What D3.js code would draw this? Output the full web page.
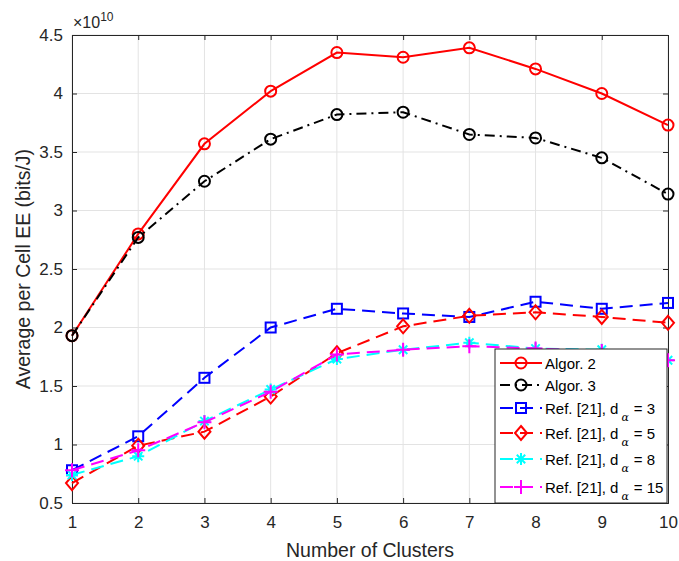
<!DOCTYPE html>
<html>
<head>
<meta charset="utf-8">
<script src="https://cdn.jsdelivr.net/npm/d3@7"></script>
<style>
  body { margin: 0; background: #fff; }
  svg { font-family: "Liberation Sans", Arial, sans-serif; }
</style>
</head>
<body>
<svg id="chart" width="679" height="561"></svg>
<script>
// data, values in units of 1e10 bits/J
const clusters = [1, 2, 3, 4, 5, 6, 7, 8, 9, 10];
const algor2 = [1.93, 2.80, 3.57, 4.02, 4.35, 4.31, 4.39, 4.21, 4.00, 3.73];
const algor3 = [1.93, 2.77, 3.25, 3.61, 3.82, 3.84, 3.65, 3.62, 3.45, 3.14];
const refD3 = [0.78, 1.07, 1.57, 2.00, 2.16, 2.12, 2.09, 2.22, 2.16, 2.21];
const refD5 = [0.67, 0.99, 1.11, 1.41, 1.78, 2.01, 2.10, 2.13, 2.09, 2.04];
const refD8 = [0.74, 0.90, 1.20, 1.47, 1.73, 1.81, 1.87, 1.82, 1.81, 1.72];
const refD15 = [0.78, 0.95, 1.19, 1.45, 1.77, 1.81, 1.84, 1.82, 1.80, 1.72];
const yTicks = [0.5, 1, 1.5, 2, 2.5, 3, 3.5, 4, 4.5];

const series = [
  {name: "Algor. 2", sub: null, values: algor2, color: "#ff0000", dash: null, marker: "circle"},
  {name: "Algor. 3", sub: null, values: algor3, color: "#000000", dash: "10,5,2,5", marker: "circle"},
  {name: "Ref. [21], d", sub: "3", values: refD3, color: "#0000ff", dash: "13,7", marker: "square"},
  {name: "Ref. [21], d", sub: "5", values: refD5, color: "#ff0000", dash: "13,7", marker: "diamond"},
  {name: "Ref. [21], d", sub: "8", values: refD8, color: "#00ffff", dash: "13,7", marker: "asterisk"},
  {name: "Ref. [21], d", sub: "15", values: refD15, color: "#ff00ff", dash: "13,7", marker: "plus"}
];

const svg = d3.select("#chart");
const margin = {left: 72, right: 11, top: 35, bottom: 58};
const width = 679 - margin.left - margin.right;
const height = 561 - margin.top - margin.bottom;

const x = d3.scaleLinear().domain([1, 10]).range([0, width]);
const y = d3.scaleLinear().domain([0.5, 4.5]).range([height, 0]);

const g = svg.append("g").attr("transform", `translate(${margin.left},${margin.top})`);

// grid
g.append("g").selectAll("line").data(clusters).enter().append("line")
  .attr("x1", d => x(d)).attr("x2", d => x(d))
  .attr("y1", 0).attr("y2", height)
  .style("stroke", "#e3e3e3").style("stroke-width", 1);
g.append("g").selectAll("line").data(yTicks).enter().append("line")
  .attr("x1", 0).attr("x2", width)
  .attr("y1", d => y(d)).attr("y2", d => y(d))
  .style("stroke", "#e3e3e3").style("stroke-width", 1);

// axes, MATLAB style with inward ticks on all sides
const tickLen = 5;
const xAxis = g.append("g").attr("transform", `translate(0,${height})`)
  .call(d3.axisBottom(x).tickValues(clusters).tickSize(-tickLen).tickPadding(13).tickFormat(d3.format("d")));
const yAxis = g.append("g")
  .call(d3.axisLeft(y).tickValues(yTicks).tickSize(-tickLen).tickPadding(9).tickFormat(d => d3.format("")(d)));
const xTop = g.append("g")
  .call(d3.axisTop(x).tickValues(clusters).tickSize(-tickLen).tickFormat(""));
const yRight = g.append("g").attr("transform", `translate(${width},0)`)
  .call(d3.axisRight(y).tickValues(yTicks).tickSize(-tickLen).tickFormat(""));

[xAxis, yAxis, xTop, yRight].forEach(a => {
  a.selectAll("path").style("stroke", "#262626").style("stroke-width", 1);
  a.selectAll("line").style("stroke", "#262626");
  a.selectAll("text").style("font-size", "17px").style("fill", "#262626")
    .style("font-family", "Liberation Sans, Arial, sans-serif");
});

// exponent label
const expo = svg.append("text").attr("x", margin.left + 1).attr("y", 28)
  .style("font-size", "16px").style("fill", "#262626");
expo.append("tspan").text("\u00d710");
expo.append("tspan").attr("dy", -7).style("font-size", "12px").text("10");

// axis labels
svg.append("text").attr("x", margin.left + width / 2).attr("y", 557)
  .attr("text-anchor", "middle").style("font-size", "19.5px").style("fill", "#262626")
  .text("Number of Clusters");
svg.append("text").attr("transform", `translate(30,${margin.top + height / 2}) rotate(-90)`)
  .attr("text-anchor", "middle").style("font-size", "19.5px").style("fill", "#262626")
  .text("Average per Cell EE (bits/J)");

// marker drawing
function drawMarker(sel, type, color) {
  sel.style("fill", "none").style("stroke", color).style("stroke-width", 2);
  if (type === "circle") {
    sel.append("circle").attr("r", 5.5);
  } else if (type === "square") {
    sel.append("rect").attr("x", -5).attr("y", -5).attr("width", 10).attr("height", 10);
  } else if (type === "diamond") {
    sel.append("path").attr("d", "M0,-7L6,0L0,7L-6,0Z");
  } else if (type === "asterisk") {
    sel.append("path").attr("d", "M-6,0H6M0,-6V6M-4.2,-4.2L4.2,4.2M-4.2,4.2L4.2,-4.2");
  } else if (type === "plus") {
    sel.append("path").attr("d", "M-7,0H7M0,-7V7");
  }
}

const line = d3.line().x((d, i) => x(clusters[i])).y(d => y(d));

series.forEach(s => {
  g.append("path").datum(s.values)
    .attr("d", line)
    .style("fill", "none").style("stroke", s.color).style("stroke-width", 2)
    .style("stroke-dasharray", s.dash);
  const m = g.append("g").selectAll("g").data(s.values).enter().append("g")
    .attr("transform", (d, i) => `translate(${x(clusters[i])},${y(d)})`);
  m.each(function () { drawMarker(d3.select(this), s.marker, s.color); });
});

// legend
const lg = svg.append("g").attr("transform", "translate(495,349)");
lg.append("rect").attr("width", 172).attr("height", 154)
  .style("fill", "#fff").style("stroke", "#262626").style("stroke-width", 1);
const rowY = [14, 36, 59, 84, 110, 138];
series.forEach((s, i) => {
  const r = lg.append("g").attr("transform", `translate(0,${rowY[i]})`);
  r.append("line").attr("x1", 5).attr("x2", 47).attr("y1", 0).attr("y2", 0)
    .style("stroke", s.color).style("stroke-width", 2).style("stroke-dasharray", s.dash);
  drawMarker(r.append("g").attr("transform", "translate(26,0)"), s.marker, s.color);
  const t = r.append("text").attr("x", 50).attr("y", 5.5)
    .style("font-size", "15px").style("fill", "#000");
  t.append("tspan").text(s.name);
  if (s.sub) {
    t.append("tspan").attr("dy", 7).attr("dx", 3).style("font-size", "11px")
      .style("font-family", "DejaVu Serif, serif").style("font-style", "italic").text("\u03b1");
    t.append("tspan").attr("dy", -7).attr("dx", 5).text("= " + s.sub);
  }
});
</script>
</body>
</html>
